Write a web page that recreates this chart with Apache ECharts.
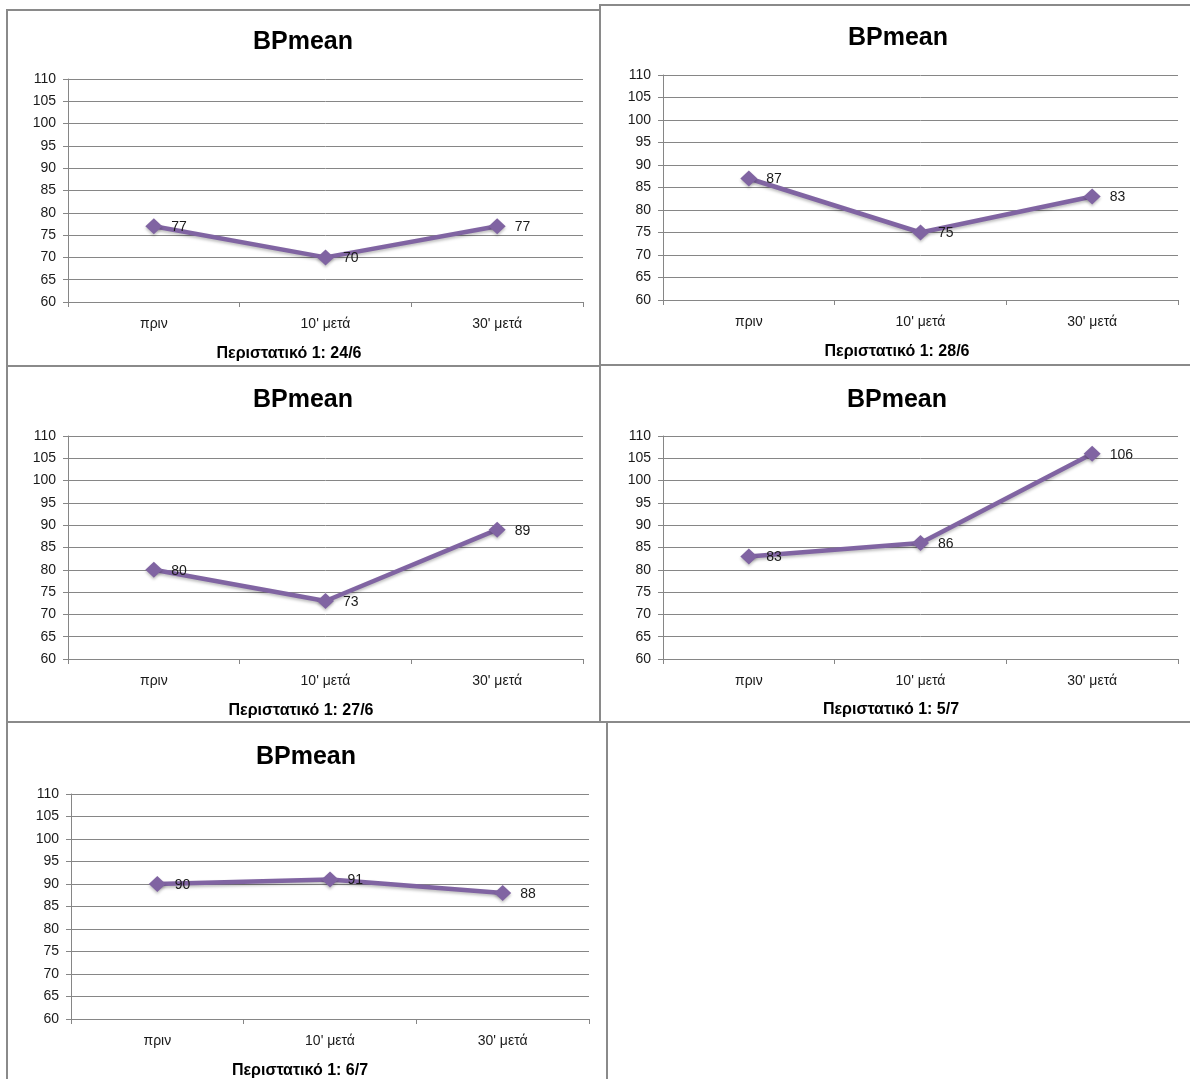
<!DOCTYPE html>
<html>
<head>
<meta charset="utf-8">
<style>
  html, body { margin: 0; padding: 0; background: #ffffff; }
  #main { width: 1190px; height: 1079px; }
</style>
<script src="https://cdn.jsdelivr.net/npm/echarts@6/dist/echarts.min.js"></script>
</head>
<body>
<div id="main"></div>
<script>
// Time points shared by every panel
const categories = ['πριν', "10' μετά", "30' μετά"];

// Mean blood pressure per session
const bp_24_6 = [77, 70, 77];
const bp_28_6 = [87, 75, 83];
const bp_27_6 = [80, 73, 89];
const bp_5_7  = [83, 86, 106];
const bp_6_7  = [90, 91, 88];

const panelTitle = 'BPmean';
const subtitles = [
  'Περιστατικό 1: 24/6',
  'Περιστατικό 1: 28/6',
  'Περιστατικό 1: 27/6',
  'Περιστατικό 1: 5/7',
  'Περιστατικό 1: 6/7'
];
const seriesData = [bp_24_6, bp_28_6, bp_27_6, bp_5_7, bp_6_7];

// Y scale shared by all panels
const yMin = 60, yMax = 110, yStep = 5;

// Panel layout: frame, plot area, title and subtitle centres
const panels = [
  { frame: [7, 10, 593, 356],  grid: [68, 79, 515, 223],  title: [303, 42],  sub: [289, 354] },
  { frame: [600, 5, 594, 360], grid: [663, 75, 515, 225], title: [898, 38],  sub: [897, 352] },
  { frame: [7, 366, 593, 356], grid: [68, 436, 515, 223], title: [303, 400], sub: [301, 711] },
  { frame: [600, 365, 594, 357], grid: [663, 436, 515, 223], title: [897, 400], sub: [891, 710] },
  { frame: [7, 722, 600, 362], grid: [71, 794, 518, 225], title: [306, 757], sub: [300, 1071] }
];

const FONT = '"Liberation Sans", Arial, sans-serif';
const GRID_GREY = '#868686';
const PURPLE = '#8064A2';

const grids = [], xAxes = [], yAxes = [], series = [], graphics = [];

panels.forEach((p, i) => {
  // frame around each chart
  graphics.push({
    type: 'rect', silent: true, z: 0,
    shape: { x: p.frame[0], y: p.frame[1], width: p.frame[2], height: p.frame[3] },
    style: { fill: 'none', stroke: '#8a8a8a', lineWidth: 2 }
  });
  graphics.push({
    type: 'text', silent: true, z: 10,
    x: p.title[0], y: p.title[1],
    style: { text: panelTitle, fill: '#000', font: 'bold 25px ' + FONT, textAlign: 'center', textVerticalAlign: 'middle' }
  });
  graphics.push({
    type: 'text', silent: true, z: 10,
    x: p.sub[0], y: p.sub[1],
    style: { text: subtitles[i], fill: '#000', font: 'bold 16px ' + FONT, textAlign: 'center', textVerticalAlign: 'middle' }
  });

  grids.push({ left: p.grid[0], top: p.grid[1], width: p.grid[2], height: p.grid[3], containLabel: false });

  xAxes.push({
    type: 'category', gridIndex: i, data: categories, boundaryGap: true,
    axisLine: { show: true, lineStyle: { color: GRID_GREY, width: 1 } },
    axisTick: { show: true, length: 5, alignWithLabel: false, lineStyle: { color: GRID_GREY } },
    axisLabel: { color: '#1a1a1a', fontFamily: FONT, fontSize: 14, margin: 15 },
    splitLine: { show: false }
  });

  yAxes.push({
    type: 'value', gridIndex: i, min: yMin, max: yMax, interval: yStep,
    axisLine: { show: true, lineStyle: { color: GRID_GREY, width: 1 } },
    axisTick: { show: true, length: 5, lineStyle: { color: GRID_GREY } },
    axisLabel: { color: '#1a1a1a', fontFamily: FONT, fontSize: 14, margin: 12 },
    splitLine: { show: true, lineStyle: { color: GRID_GREY, width: 1 } }
  });

  series.push({
    type: 'line', xAxisIndex: i, yAxisIndex: i, data: seriesData[i],
    symbol: 'diamond', symbolSize: [17, 16],
    lineStyle: { color: PURPLE, width: 4.5, shadowColor: 'rgba(0,0,0,0.25)', shadowBlur: 3, shadowOffsetY: 2 },
    itemStyle: { color: PURPLE, shadowColor: 'rgba(0,0,0,0.25)', shadowBlur: 3, shadowOffsetY: 2 },
    label: { show: true, position: 'right', distance: 9, offset: [0, 1], color: '#1a1a1a', fontFamily: FONT, fontSize: 14 },
    emphasis: { disabled: true },
    animation: false
  });
});

const chart = echarts.init(document.getElementById('main'), null, { renderer: 'canvas' });
chart.setOption({
  backgroundColor: '#ffffff',
  animation: false,
  grid: grids,
  xAxis: xAxes,
  yAxis: yAxes,
  series: series,
  graphic: graphics
});
</script>
</body>
</html>
